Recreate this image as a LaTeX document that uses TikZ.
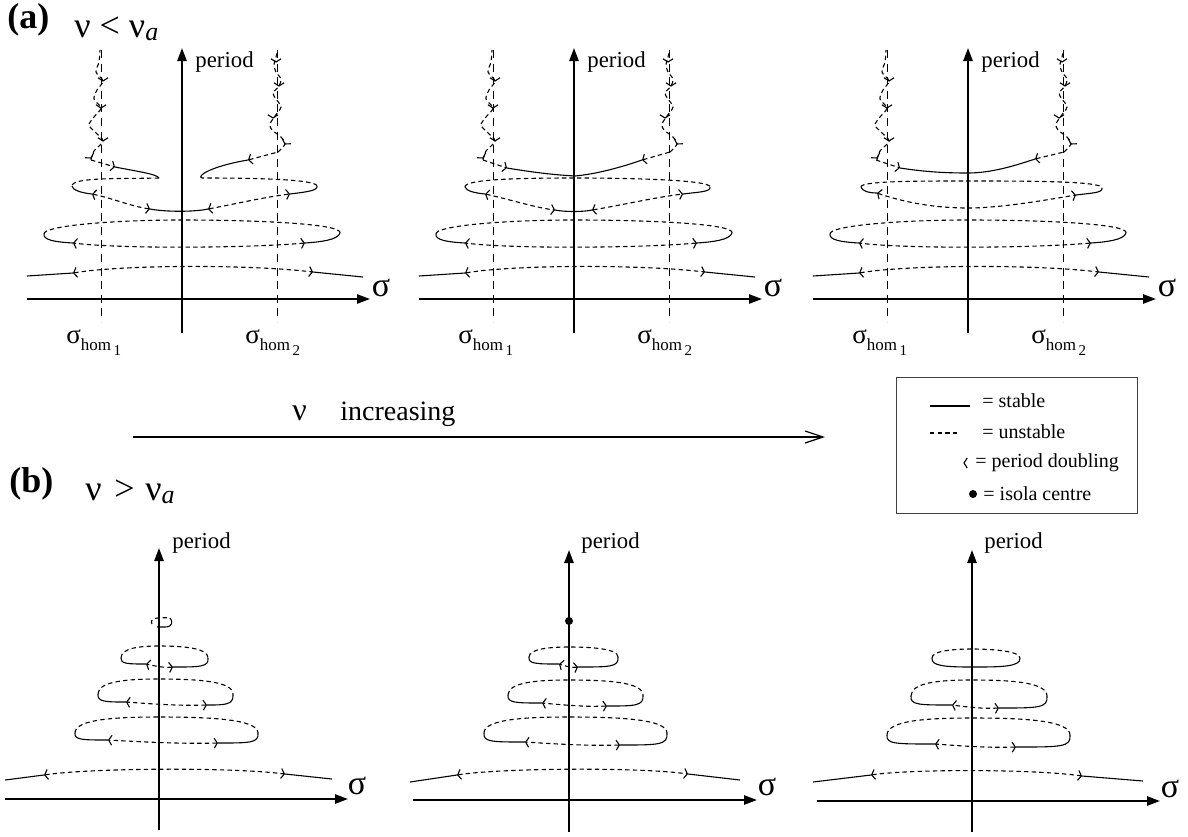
\documentclass[tikz,border=0pt]{standalone}
\usepackage{fontspec}
\setmainfont{Liberation Serif}
\usetikzlibrary{arrows.meta}

\newcommand{\shom}[1]{{\fontsize{13.5}{15}\selectfont σ}\raisebox{-3.5pt}{\fontsize{8.5}{10}\selectfont hom\raisebox{-2.5pt}{\fontsize{7.5}{9}\selectfont\,#1}}}

% common part of the three upper panels
\newcommand{\apanel}[1]{%
  \draw[homline] (101,50) -- (101,322);
  \draw[homline] (277,50) -- (277,322);
  \draw[axis] (182,333) -- (182,48);
  \draw[axis] (27,299) -- (370,299);
  \node[axlab] (per#1) at (195,62) {period};
  \node[siglab] (sig#1) at (381,288) {σ};
  \node[homlab] (hA#1) at (66,343) {\shom{1}};
  \node[homlab] (hB#1) at (245,343) {\shom{2}};
  %lowest branch
  \draw[stab] (27,276) -- (73,273);
  \draw[unst,<->] (73,273) .. controls (120,265) and (245,264) .. (313,272);
  \draw[stab] (313,272) -- (363,277);
  %second loop
  \draw[stab] (73,243) .. controls (55,242) and (43,240) .. (44,234);
  \draw[unst] (44,234) .. controls (43,226) and (110,220) .. (182,220) .. controls (260,220) and (343,224) .. (340,233);
  \draw[stab] (340,233) .. controls (338,240) and (320,242) .. (305,243);
  \draw[unst,<->] (305,243) .. controls (250,248) and (120,249) .. (73,243);
  %wiggles near the homoclinic lines
  \draw[unst] plot[smooth] coordinates {(91,160) (94,151) (103,141) (95,132) (89,125) (94,117) (101,108) (94,99) (97,90) (103,81) (96,72) (99,62) (100,50)};
  \draw[unst] plot[smooth] coordinates {(278,152) (285,144) (281,137) (272,130) (270,124) (275,116) (281,107) (276,99) (273,93) (279,86) (281,79) (276,72) (274,65) (276,57) (278,50)};
  \foreach \px/\py/\rt in {91/158/-60, 103/141/-90, 101/108/-90, 103/81/-90, 285/144/-120, 273/118/-90, 279/86/-90, 276/62/-90}
    \pic[rotate=\rt] at (\px,\py) {pdmark};
}

% isola with two period doublings
\newcommand{\bloop}[8]{%
  \draw[unst] (#1,#4) .. controls (#1,{#3+2}) and ({(#1+#8)/2},#3) .. (#8,#3) .. controls ({(#2+#8)/2},#3) and (#2,{#3+2}) .. (#2,#4);
  \draw[stab] (#2,#4) .. controls ({#2+1},{#5+3}) and ({#2-8},{#5+3}) .. (#7,{#5+3});
  \draw[unst,<->] (#7,{#5+3}) .. controls ({#7-(#7-#6)/3},{#5+4}) and ({#6+(#7-#6)/3},{#5+2}) .. (#6,#5);
  \draw[stab] (#6,#5) .. controls ({#1+8},#5) and ({#1-1},#5) .. (#1,#4);
}

\begin{document}
\begin{tikzpicture}
[
x=0.5pt, y=-0.5pt,
>={Straight Barb[length=1.6pt,width=5pt]},
stab/.style={line width=0.55pt},
unst/.style={line width=0.55pt, dash pattern=on 2.2pt off 1.6pt},
homline/.style={line width=0.5pt, dash pattern=on 4pt off 2.8pt},
axis/.style={line width=1pt, -{Triangle[length=6.5pt,width=4.6pt]}},
axlab/.style={font=\fontsize{11.4}{13}\selectfont, inner sep=0pt, anchor=west},
siglab/.style={font=\fontsize{17}{19}\selectfont, inner sep=0pt},
homlab/.style={inner sep=0pt, anchor=base west},
ttl/.style={font=\fontsize{18}{20}\selectfont\bfseries, inner sep=0pt, anchor=base west},
ttlnu/.style={font=\fontsize{18}{20}\selectfont, inner sep=0pt, anchor=base west},
leg/.style={font=\fontsize{10}{12}\selectfont, inner sep=0pt, anchor=west},
pdmark/.pic={\draw[line width=0.55pt] (-1.6pt,2.5pt) -- (0pt,0pt) -- (-1.6pt,-2.5pt);}
]
\useasboundingbox (0,0) rectangle (1188,836);

%Titles
\node[ttl]   (ta)  at (7,28)   {(a)};
\node[ttlnu] (tan) at (74,37)  {ν < ν\raisebox{-1.5pt}{\fontsize{13}{14}\selectfont\itshape a}};
\node[ttl]   (tb)  at (9,492)  {(b)};
\node[ttlnu] (tbn) at (85,500) {ν\hspace{0.35em}>\hspace{0.3em}ν\raisebox{-1.5pt}{\fontsize{13}{14}\selectfont\itshape a}};

%Upper row, left
\apanel{1}
\draw[unst,->] (91,160) -- (115,167);
\draw[stab] (115,167) .. controls (135,171) and (157,174) .. (159,178);
\draw[unst] (159,178) .. controls (120,179) and (72,177) .. (72,186);
\draw[stab] (72,186) .. controls (72,190) and (82,193) .. (92,194);
\draw[unst,<->] (92,194) .. controls (115,199) and (130,206) .. (150,209);
\draw[stab] (150,209) .. controls (165,212) and (195,212) .. (208,209);
\draw[unst,<->] (208,209) .. controls (235,204) and (265,197) .. (290,194);
\draw[stab] (290,194) .. controls (305,192) and (318,191) .. (317,186);
\draw[unst] (317,186) .. controls (316,179) and (250,178) .. (202,178);
\draw[stab] (202,178) .. controls (196,176) and (212,166) .. (248,160);
\draw[unst,<-] (248,160) -- (278,152);

%Upper row, middle
\begin{scope}[shift={(392,0)}]
\apanel{2}
\draw[unst,->] (91,160) -- (115,168);
\draw[stab] (115,168) .. controls (145,173) and (165,175) .. (183,176) .. controls (205,174) and (230,167) .. (250,160);
\draw[unst,<-] (250,160) -- (278,152);
\draw[unst] (73,187) .. controls (72,179) and (130,178) .. (183,178) .. controls (240,178) and (319,180) .. (318,187);
\draw[stab] (73,187) .. controls (74,191) and (83,193) .. (93,194);
\draw[unst,<->] (93,194) .. controls (120,200) and (145,208) .. (163,210);
\draw[stab] (163,210) .. controls (172,212) and (192,212) .. (200,210);
\draw[unst,<->] (200,210) .. controls (225,206) and (265,197) .. (291,194);
\draw[stab] (291,194) .. controls (306,192) and (319,192) .. (318,187);
\end{scope}

%Upper row, right
\begin{scope}[shift={(786,0)}]
\apanel{3}
\draw[unst,->] (90,160) -- (114,168);
\draw[stab] (114,168) .. controls (140,172) and (160,173) .. (182,173) .. controls (205,173) and (228,166) .. (249,159);
\draw[unst,<-] (249,159) -- (278,152);
\draw[unst] (75,187) .. controls (74,181) and (130,181) .. (182,181) .. controls (240,181) and (317,181) .. (316,188);
\draw[stab] (75,187) .. controls (76,191) and (83,193) .. (91,193);
\draw[unst,<->] (91,193) .. controls (120,203) and (150,208) .. (182,208) .. controls (215,208) and (260,200) .. (290,195);
\draw[stab] (290,195) .. controls (305,193) and (317,193) .. (316,188);
\end{scope}

%Parameter arrow
\node[ttlnu, font=\fontsize{16}{18}\selectfont] (nu) at (292,420) {ν};
\node[ttlnu, font=\fontsize{14}{16}\selectfont] (incr) at (340,420) {increasing};
\coordinate (arL) at (133,437);
\coordinate (arR) at (825,437);
\draw[line width=0.6pt, -{Straight Barb[length=9pt,width=6pt]}] (arL) -- (arR);

%Legend
\draw[black!75, line width=0.5pt] (896,377) rectangle (1137,513);
\draw[stab] (930,406) -- (970,406);
\node[leg] (lstab) at (982,401) {= stable};
\draw[unst] (930,433) -- (958,433);
\node[leg] (lunst) at (982,432) {= unstable};
\pic[rotate=180] at (964,463) {pdmark};
\node[leg] (lpd) at (975,463) {= period doubling};
\fill (973,494) circle (2pt);
\node[leg] (liso) at (983,494) {= isola centre};

%Lower row, left
\draw[axis] (159,830) -- (159,548);
\draw[axis] (5,799) -- (348,799);
\node[axlab] (per4) at (172,543) {period};
\node[siglab] (sig4) at (357,786) {σ};
\draw[stab] (5,780) -- (44,775);
\draw[unst,<->] (44,775) .. controls (90,768) and (230,767) .. (285,774);
\draw[stab] (285,774) -- (332,779);
\bloop{75}{258}{717}{733}{740}{108}{218}{159}
\bloop{98}{233}{679}{694}{702}{126}{207}{159}
\bloop{121}{208}{646}{658}{664}{146}{173}{159}
\draw[unst] (152,624) .. controls (149,618) and (158,617) .. (170,618);
\draw[stab] (170,618) .. controls (173,621) and (173,627) .. (165,627) -- (157,627);

%Lower row, middle
\draw[axis] (569,832) -- (569,550);
\draw[axis] (413,800) -- (757,800);
\node[axlab] (per5) at (581,543) {period};
\node[siglab] (sig5) at (767,787) {σ};
\fill (569,621) circle (2pt);
\draw[stab] (410,782) -- (457,775);
\draw[unst,<->] (457,775) .. controls (500,768) and (640,767) .. (688,774);
\draw[stab] (688,774) -- (740,780);
\bloop{484}{667}{717}{733}{742}{525}{620}{569}
\bloop{508}{643}{680}{695}{703}{542}{607}{569}
\bloop{529}{618}{647}{657}{664}{559}{578}{569}

%Lower row, right
\draw[axis] (972,832) -- (972,550);
\draw[axis] (817,801) -- (1160,801);
\node[axlab] (per6) at (984,543) {period};
\node[siglab] (sig6) at (1170,789) {σ};
\draw[stab] (813,782) -- (871,775);
\draw[unst,<->] (871,775) .. controls (910,769) and (1035,769) .. (1082,776);
\draw[stab] (1082,776) -- (1143,781);
\bloop{887}{1070}{718}{735}{744}{935}{1016}{972}
\bloop{911}{1047}{680}{696}{705}{952}{999}{972}
\draw[unst] (932,658) .. controls (932,651) and (952,649) .. (972,649) .. controls (992,649) and (1020,651) .. (1020,658);
\draw[stab] (1020,658) .. controls (1021,667) and (1000,667) .. (972,667) .. controls (945,667) and (931,666) .. (932,658);
\end{tikzpicture}
\end{document}
